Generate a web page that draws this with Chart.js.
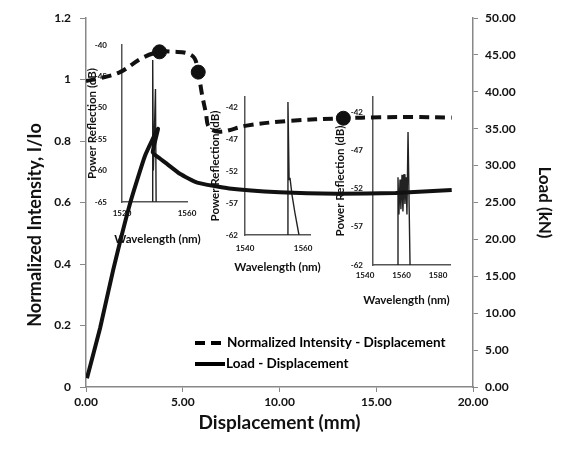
<!DOCTYPE html>
<html>
<head>
<meta charset="utf-8">
<script src="https://cdn.jsdelivr.net/npm/chart.js@4"></script>
<style>
  body { margin: 0; background: #fff; }
  #wrap { position: relative; width: 561px; height: 453px; }
  #wrap canvas { position: absolute; left: 0; top: 0; }
</style>
</head>
<body>
<div id="wrap">
  <canvas id="ins1" width="561" height="453"></canvas>
  <canvas id="ins2" width="561" height="453"></canvas>
  <canvas id="ins3" width="561" height="453"></canvas>
  <canvas id="main" width="561" height="453"></canvas>
</div>
<script>
// main chart: normalized intensity vs displacement
const dispI = [0.0, 0.7, 1.76, 2.9, 3.8, 4.6, 5.2, 5.6, 5.8, 6.0, 6.2, 6.35, 6.9, 8.3, 10.4, 13.3, 15.2, 17.0, 18.9];
const intensity = [0.995, 1.004, 1.024, 1.07, 1.09, 1.09, 1.086, 1.07, 1.024, 0.95, 0.89, 0.845, 0.83, 0.85, 0.865, 0.874, 0.877, 0.878, 0.876];
// circles where the spectra were taken
const markDisp = [3.8, 5.8, 13.3];
const markI = [1.09, 1.024, 0.874];
// load vs displacement
const dispL = [0.05, 0.73, 1.4, 2.28, 3.06, 3.72, 3.45, 3.8, 4.2, 4.85, 5.75, 7.4, 10.0, 13.0, 16.0, 18.9];
const load = [1.2, 8.0, 15.8, 24.9, 31.4, 35.0, 31.8, 31.0, 30.2, 28.9, 27.7, 26.9, 26.4, 26.2, 26.3, 26.7];

// inset spectra (wavelength nm, power reflection dB)
const wl1 = [1538.6, 1538.9, 1539.3, 1540.6, 1541.0];
const pr1 = [-65, -42.4, -60, -47, -65];
const wl2 = [1554.5, 1554.8, 1555.2, 1555.5, 1556.2, 1557.2, 1558.6];
const pr2 = [-62, -41.1, -53.3, -53.0, -55.7, -58.5, -62];
const wl3 = [1553.2, 1553.7, 1554.2, 1554.8, 1555.3, 1555.9, 1556.4, 1557.0, 1557.5, 1558.1, 1558.6, 1559.2, 1560.3];
const pr3 = [-62, -50.5, -55.4, -50.8, -54.7, -50.2, -55, -50.1, -54, -50.5, -55.4, -44.6, -62];

const ins1XTicks = [1520, 1560];
const ins1YTicks = [-65, -60, -55, -50, -45, -40];
const ins2XTicks = [1540, 1560];
const ins2YTicks = [-62, -57, -52, -47, -42];
const ins3XTicks = [1540, 1560, 1580];
const ins3YTicks = [-62, -57, -52, -47, -42];

Chart.defaults.font.family = 'Lato';
Chart.defaults.font.weight = 'bold';
Chart.defaults.color = '#111';

function pts(xs, ys) { return xs.map((x, i) => ({x: x, y: ys[i]})); }
function fixTicks(list) { return function(s) { s.ticks = list.map(v => ({value: v})); }; }

// x title of the insets is wider than the little axis, so draw it without the squeeze
const insetXTitle = {
  id: 'insetXTitle',
  afterDraw(chart, args, opts) {
    const x = chart.scales.x;
    const ctx = chart.ctx;
    ctx.save();
    ctx.font = 'bold 11.5px Lato';
    ctx.fillStyle = '#111';
    ctx.textAlign = 'center';
    ctx.textBaseline = 'middle';
    ctx.fillText(opts.text, (x.left + x.right) / 2 + opts.dx, x.top + opts.dy);
    ctx.restore();
  }
};

function inset(id, box, wl, pr, xr, yr, xt, yt, o) {
  return new Chart(document.getElementById(id), {
    type: 'line',
    data: { datasets: [{ data: pts(wl, pr), borderColor: '#222', borderWidth: 1.4, pointRadius: 0, tension: 0 }] },
    options: {
      responsive: false, animation: false,
      layout: { padding: { left: box.l - 40, top: box.t, right: 561 - box.r, bottom: 453 - box.b - 45 } },
      plugins: {
        legend: { display: false }, tooltip: { enabled: false },
        insetXTitle: { text: 'Wavelength (nm)', dx: o.tdx, dy: o.tdy }
      },
      scales: {
        x: {
          type: 'linear', min: xr[0], max: xr[1],
          afterBuildTicks: fixTicks(xt),
          afterFit: s => { s.height = 45; },
          grid: { display: false, drawTicks: false },
          border: { display: true, color: '#555', width: 1.5 },
          ticks: { font: { size: 8 }, padding: o.xp, labelOffset: o.lo || 0, maxRotation: 0, autoSkip: false, callback: v => String(v) }
        },
        y: {
          min: yr[0], max: yr[1],
          afterBuildTicks: fixTicks(yt),
          afterFit: s => { s.width = 40; },
          grid: { display: false, drawTicks: false },
          border: { display: true, color: '#555', width: 1.5 },
          ticks: { font: { size: 8 }, padding: o.yp, callback: v => String(v) },
          title: { display: true, text: 'Power Reflection (dB)', font: { size: 11.5 }, padding: { top: o.ytp, bottom: 0 } }
        }
      }
    },
    plugins: [insetXTitle]
  });
}

inset('ins1', {l: 122, t: 45, r: 187, b: 202}, wl1, pr1, [1520, 1560], [-65, -40], ins1XTicks, ins1YTicks, {xp: 7, yp: 15, ytp: 3, tdx: 3, tdy: 37});
inset('ins2', {l: 245, t: 97, r: 310, b: 235}, wl2, pr2, [1540, 1562.4], [-62, -40.3], ins2XTicks, ins2YTicks, {xp: 9, yp: 7, ytp: 3, tdx: 0, tdy: 32});
inset('ins3', {l: 373, t: 97, r: 450, b: 265}, wl3, pr3, [1540, 1582.2], [-62, -40], ins3XTicks, ins3YTicks, {xp: 6, yp: 10, ytp: 0, lo: -8, tdx: -5, tdy: 35});

const legendBox = {
  id: 'legendBox',
  afterDraw(chart) {
    const ctx = chart.ctx;
    const ds = chart.data.datasets;
    ctx.save();
    ctx.font = 'bold 13.5px Lato';
    ctx.fillStyle = '#000';
    ctx.textBaseline = 'middle';
    ctx.strokeStyle = '#000';
    ctx.lineWidth = 4;
    ctx.setLineDash([10, 6]);
    ctx.beginPath(); ctx.moveTo(195, 343); ctx.lineTo(223, 343); ctx.stroke();
    ctx.fillText(ds[0].label, 227, 343);
    ctx.setLineDash([]);
    ctx.beginPath(); ctx.moveTo(195, 364); ctx.lineTo(225, 364); ctx.stroke();
    ctx.fillText(ds[2].label, 226, 364);
    ctx.restore();
  }
};

const pad = '\u2002'.repeat(5);

new Chart(document.getElementById('main'), {
  type: 'line',
  data: {
    datasets: [
      { label: 'Normalized Intensity - Displacement', data: pts(dispI, intensity), yAxisID: 'y',
        borderColor: '#111', borderWidth: 4, borderDash: [10, 6], pointRadius: 0, tension: 0.35 },
      { label: 'marks', data: pts(markDisp, markI), yAxisID: 'y', showLine: false,
        pointRadius: 7, backgroundColor: '#111', borderColor: '#111' },
      { label: 'Load - Displacement', data: pts(dispL, load), yAxisID: 'y1',
        borderColor: '#111', borderWidth: 4, pointRadius: 0, tension: 0.15 }
    ]
  },
  options: {
    responsive: false, animation: false,
    layout: { padding: { left: 0, top: 18, right: 0, bottom: 0 } },
    plugins: { legend: { display: false }, tooltip: { enabled: false } },
    scales: {
      x: {
        type: 'linear', min: 0, max: 20,
        afterFit: s => { s.height = 66; },
        grid: { drawOnChartArea: false, tickLength: 5, color: '#888' },
        border: { color: '#888', width: 1.5 },
        ticks: { stepSize: 5, font: { size: 12 }, padding: 3, maxRotation: 0, callback: v => v.toFixed(2) },
        title: { display: true, text: 'Displacement (mm)', font: { size: 19 }, padding: { top: 0, bottom: 19 } }
      },
      y: {
        position: 'left', min: 0, max: 1.2,
        afterFit: s => { s.width = 86; },
        grid: { drawOnChartArea: false, tickLength: 6, color: '#888' },
        border: { color: '#888', width: 1.5 },
        ticks: { stepSize: 0.2, font: { size: 12 }, padding: 9, callback: v => String(+v.toFixed(1)) },
        title: { display: true, text: 'Normalized Intensity, I/Io' + pad, font: { size: 18 }, padding: { top: 24, bottom: 0 } }
      },
      y1: {
        position: 'right', min: 0, max: 50,
        afterFit: s => { s.width = 88; },
        grid: { drawOnChartArea: false, tickLength: 5, color: '#888' },
        border: { color: '#888', width: 1.5 },
        ticks: { stepSize: 5, font: { size: 12 }, padding: 7, callback: v => v.toFixed(2) },
        title: { display: true, text: 'Load (kN)', font: { size: 17 }, padding: { top: 6, bottom: 0 } }
      }
    }
  },
  plugins: [legendBox]
});
</script>
</body>
</html>
